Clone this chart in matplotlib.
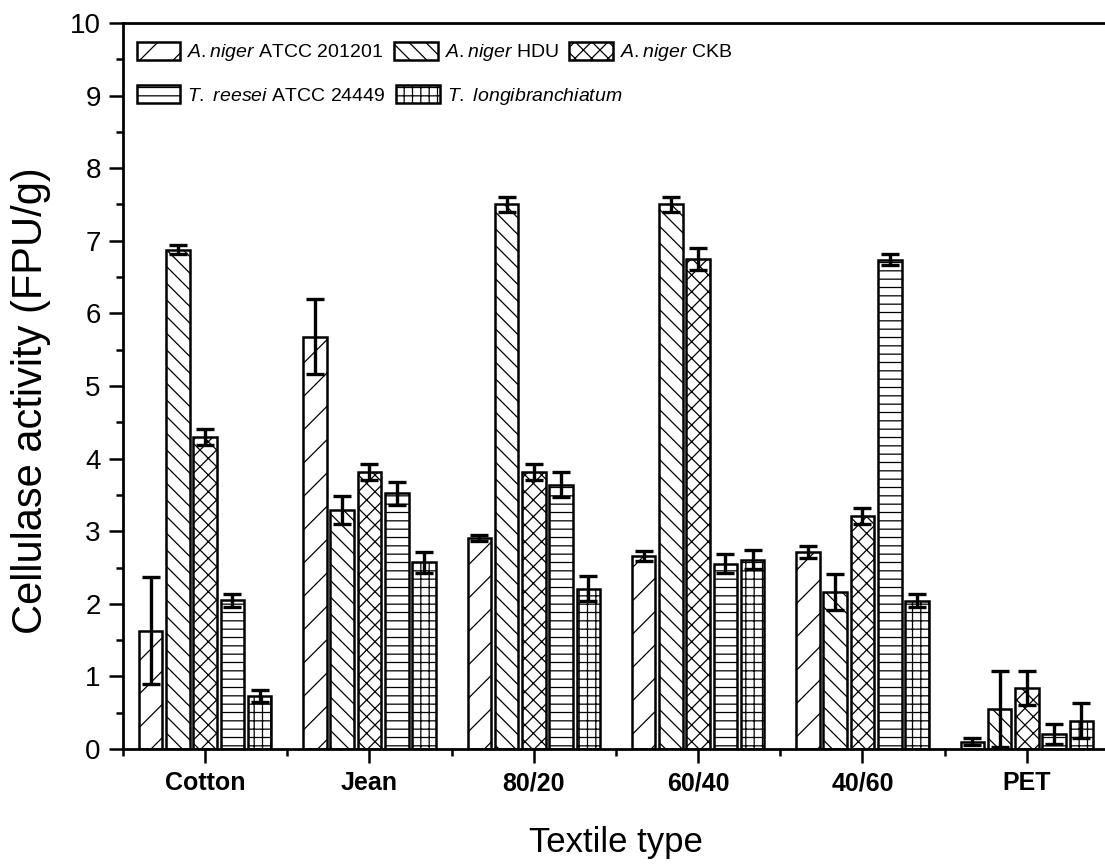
import matplotlib
matplotlib.use("Agg")
import matplotlib.pyplot as plt
import numpy as np
from matplotlib.ticker import MultipleLocator, FixedLocator

plt.rcParams['font.family'] = ['Liberation Sans', 'DejaVu Sans']
plt.rcParams['mathtext.fontset'] = 'custom'
plt.rcParams['mathtext.rm'] = 'Liberation Sans'
plt.rcParams['mathtext.it'] = 'Liberation Sans:italic'
plt.rcParams['hatch.linewidth'] = 0.9

categories = ['Cotton', 'Jean', '80/20', '60/40', '40/60', 'PET']
series_names = [r'$\it{A.niger}$ ATCC 201201', r'$\it{A.niger}$ HDU', r'$\it{A.niger}$ CKB',
                r'$\it{T.}$ $\it{reesei}$ ATCC 24449', r'$\it{T.}$ $\it{longibranchiatum}$']

atcc201201 = [1.63, 5.68, 2.91, 2.66, 2.71, 0.10]
hdu = [6.88, 3.29, 7.50, 7.50, 2.16, 0.55]
ckb = [4.30, 3.81, 3.81, 6.75, 3.21, 0.84]
treesei = [2.05, 3.52, 3.64, 2.55, 6.74, 0.21]
tlongi = [0.73, 2.57, 2.21, 2.61, 2.04, 0.39]

err_atcc201201 = [0.74, 0.52, 0.04, 0.065, 0.085, 0.05]
err_hdu = [0.06, 0.19, 0.10, 0.10, 0.25, 0.52]
err_ckb = [0.11, 0.11, 0.11, 0.155, 0.105, 0.235]
err_treesei = [0.09, 0.16, 0.17, 0.13, 0.08, 0.14]
err_tlongi = [0.085, 0.14, 0.17, 0.13, 0.09, 0.245]

values = [atcc201201, hdu, ckb, treesei, tlongi]
errors = [err_atcc201201, err_hdu, err_ckb, err_treesei, err_tlongi]
hatches = ['/', '\\\\', 'xx', '--', '++']

fig = plt.figure(figsize=(11.05, 8.66), dpi=100)
ax = fig.add_axes([123/1105, 117/866, 986/1105, 726/866])

x = np.arange(len(categories))
pitch = 0.166
width = 0.143
handles = []
for i, (vals, errs, h, name) in enumerate(zip(values, errors, hatches, series_names)):
    pos = x + (i - 2) * pitch
    b = ax.bar(pos, vals, width, facecolor='white', edgecolor='black', hatch=h,
               linewidth=1.8, label=name, zorder=2)
    ax.errorbar(pos, vals, yerr=errs, fmt='none', ecolor='black', elinewidth=2.4,
                capsize=6.5, capthick=2.4, zorder=3)
    handles.append(b)

ax.set_xlim(-0.5, 5.5)
ax.set_ylim(0, 10)
ax.set_xticks(x)
ax.set_xticklabels(categories, fontsize=18, fontweight='bold')
ax.xaxis.set_minor_locator(FixedLocator(np.arange(-0.5, 6.0, 1.0)))
ax.yaxis.set_major_locator(MultipleLocator(1))
ax.yaxis.set_minor_locator(MultipleLocator(0.5))
ax.tick_params(axis='both', which='major', direction='out', length=10, width=1.8, pad=6)
ax.tick_params(axis='both', which='minor', direction='out', length=5, width=1.8)
ax.tick_params(axis='y', which='major', labelsize=20)
for s in ax.spines.values():
    s.set_linewidth(2.0)

ax.set_xlabel('Textile type', fontsize=25, labelpad=22)
ax.set_ylabel('Cellulase activity (FPU/g)', fontsize=30)
ax.yaxis.set_label_coords(-0.073, 0.48)

kw = dict(frameon=False, fontsize=14, handlelength=2.25, handleheight=1.05,
          columnspacing=0.55, handletextpad=0.35, borderaxespad=0.0)
leg1 = ax.legend(handles[:3], series_names[:3], ncol=3, loc='upper left',
                 bbox_to_anchor=(0.006, 0.985), **kw)
ax.add_artist(leg1)
ax.legend(handles[3:], series_names[3:], ncol=2, loc='upper left',
          bbox_to_anchor=(0.006, 0.925), **kw)

fig.savefig('out.png', dpi=100)
